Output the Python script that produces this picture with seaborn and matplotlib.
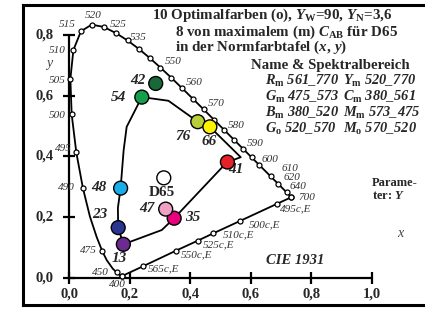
import matplotlib
matplotlib.use("Agg")
import matplotlib.pyplot as plt
import seaborn as sns
import pandas as pd

# spectral locus (CIE 1931), wavelength, x, y
locus_nm = [400, 420, 440, 450, 460, 470, 475, 480, 485, 490, 495, 500, 505, 510, 515, 520, 525,
            530, 535, 540, 545, 550, 555, 560, 565, 570, 575, 580, 585, 590, 595, 600, 610,
            620, 640, 700]
locus_x = [0.1733, 0.1714, 0.1644, 0.1566, 0.1440, 0.1241, 0.1096, 0.0913, 0.0687, 0.0454,
           0.0235, 0.0082, 0.0039, 0.0139, 0.0389, 0.0743, 0.1142, 0.1547, 0.1929, 0.2296,
           0.2658, 0.3016, 0.3373, 0.3731, 0.4087, 0.4441, 0.4788, 0.5125, 0.5448, 0.5752,
           0.6029, 0.6270, 0.6658, 0.6915, 0.7190, 0.7347]
locus_y = [0.0048, 0.0051, 0.0109, 0.0177, 0.0297, 0.0578, 0.0868, 0.1327, 0.2007, 0.2950,
           0.4127, 0.5384, 0.6548, 0.7502, 0.8120, 0.8338, 0.8262, 0.8059, 0.7816, 0.7543,
           0.7243, 0.6923, 0.6589, 0.6245, 0.5896, 0.5547, 0.5202, 0.4866, 0.4544, 0.4242,
           0.3965, 0.3725, 0.3340, 0.3083, 0.2809, 0.2653]
unmarked_nm = [420, 440, 460, 470, 480, 485]

# purple line with compensative wavelengths
purple_lab = ["700", "495c,E", "500c,E", "510c,E", "525c,E", "550c,E", "565c,E", "400"]
purple_x = [0.7347, 0.686, 0.565, 0.476, 0.425, 0.353, 0.245, 0.1733]
purple_y = [0.2653, 0.243, 0.187, 0.146, 0.122, 0.089, 0.038, 0.0048]

# wavelength labels
wl_text = ["400", "450", "475", "490", "495", "500", "505", "510", "515", "520", "525", "535",
           "550", "560", "570", "580", "590", "600", "610", "620", "640", "700",
           "495c,E", "500c,E", "510c,E", "525c,E", "550c,E", "565c,E"]
wl_tx = [0.159, 0.102, 0.063, -0.008, -0.02, -0.039, -0.039, -0.039, -0.008, 0.078, 0.162, 0.228,
         0.344, 0.413, 0.485, 0.551, 0.614, 0.664, 0.730, 0.735, 0.757, 0.787,
         0.750, 0.647, 0.559, 0.493, 0.421, 0.311]
wl_ty = [-0.024, 0.018, 0.091, 0.297, 0.427, 0.536, 0.651, 0.747, 0.833, 0.863, 0.835, 0.792,
         0.712, 0.643, 0.575, 0.503, 0.443, 0.390, 0.360, 0.331, 0.300, 0.265,
         0.226, 0.174, 0.143, 0.110, 0.075, 0.028]

# optimal colour curve
curve_x = [0.179, 0.162, 0.161, 0.170, 0.180, 0.190, 0.240, 0.328, 0.425, 0.465, 0.567, 0.521,
           0.347, 0.306, 0.179]
curve_y = [0.110, 0.165, 0.230, 0.295, 0.420, 0.497, 0.595, 0.583, 0.514, 0.497, 0.397, 0.380,
           0.196, 0.157, 0.110]

# coloured samples
pt_name = ["42", "54", "76", "66", "41", "48", "23", "13", "35", "47", "D65"]
pt_x = [0.286, 0.240, 0.425, 0.465, 0.523, 0.170, 0.162, 0.179, 0.347, 0.319, 0.3127]
pt_y = [0.640, 0.595, 0.514, 0.497, 0.381, 0.295, 0.165, 0.110, 0.196, 0.226, 0.3290]
pt_color = ["#18693a", "#14a04a", "#b8cf3a", "#fff200", "#e8202a", "#1aaee8", "#2a3590",
            "#6b2b90", "#e6007e", "#f0a0c4", "#ffffff"]
lab_x = [0.228, 0.162, 0.375, 0.463, 0.550, 0.099, 0.100, 0.166, 0.408, 0.256, 0.306]
lab_y = [0.651, 0.594, 0.465, 0.448, 0.358, 0.297, 0.207, 0.064, 0.199, 0.229, 0.281]

ticks_x = [0.0, 0.2, 0.4, 0.6, 0.8, 1.0]
ticks_y = [0.0, 0.2, 0.4, 0.6, 0.8]

rows_left = [r"$R_\mathrm{m}$ 561_770", r"$G_\mathrm{m}$ 475_573", r"$B_\mathrm{m}$ 380_520",
             r"$G_\mathrm{o}$ 520_570"]
rows_right = [r"$Y_\mathrm{m}$ 520_770", r"$C_\mathrm{m}$ 380_561", r"$M_\mathrm{m}$ 573_475",
              r"$M_\mathrm{o}$ 570_520"]
rows_y = [0.648, 0.595, 0.542, 0.490]

sns.set_style("white")
plt.rcParams["font.family"] = ["Liberation Serif", "DejaVu Serif"]
plt.rcParams["mathtext.fontset"] = "custom"
plt.rcParams["mathtext.rm"] = "Liberation Serif:bold"
plt.rcParams["mathtext.bf"] = "Liberation Serif:bold"
plt.rcParams["mathtext.it"] = "Liberation Serif:bold:italic"

fig = plt.figure(figsize=(4.25, 3.11), dpi=100)
ax = fig.add_axes([23 / 425, 6 / 311, 417 / 425, 300 / 311])
ax.set_xlim(-0.1527, 1.2258)
ax.set_ylim(-0.0900, 0.8985)
ax.set_xticks([])
ax.set_yticks([])
for s in ["left", "top", "bottom"]:
    ax.spines[s].set_linewidth(2.2)
    ax.spines[s].set_color("black")
ax.spines["right"].set_visible(False)

# axes lines with crossing ticks
ax.plot([0, 1.0], [0, 0], color="black", lw=1.6)
ax.plot([0, 0], [0, 0.8], color="black", lw=1.6)
ax.plot(ticks_x, [0] * len(ticks_x), ls="none", marker="|", ms=8, mew=1.6, color="black")
ax.plot([0] * len(ticks_y), ticks_y, ls="none", marker="_", ms=8, mew=1.6, color="black")
for t in ticks_x:
    ax.text(t, -0.054, f"{t:.1f}".replace(".", ","), ha="center", va="center",
            fontsize=10.5, fontweight="bold")
for t in ticks_y:
    ax.text(-0.052, t, f"{t:.1f}".replace(".", ","), ha="right", va="center",
            fontsize=10.5, fontweight="bold")
ax.text(-0.067, 0.707, "y", fontsize=10, style="italic", color="#444444", ha="center", va="center")
ax.text(1.094, 0.147, "x", fontsize=10, style="italic", color="#444444", ha="center", va="center")

# spectral locus
loc = pd.DataFrame({"nm": locus_nm, "x": locus_x, "y": locus_y})
sns.lineplot(data=loc, x="x", y="y", sort=False, estimator=None, color="black", lw=1.3, ax=ax)
marked = loc[~loc["nm"].isin(unmarked_nm)]
ax.plot(marked["x"], marked["y"], ls="none", marker="o", ms=3.6, mfc="white", mec="black",
        mew=0.9, zorder=4)

pur = pd.DataFrame({"lab": purple_lab, "x": purple_x, "y": purple_y})
sns.lineplot(data=pur, x="x", y="y", sort=False, estimator=None, color="black", lw=1.3, ax=ax)
ax.plot(pur["x"], pur["y"], ls="none", marker="o", ms=3.6, mfc="white", mec="black",
        mew=0.9, zorder=4)

for t, x, y in zip(wl_text, wl_tx, wl_ty):
    ax.text(x, y, t, fontsize=8, style="italic", color="#333333", ha="center", va="center")

# optimal colour curve and samples
cur = pd.DataFrame({"x": curve_x, "y": curve_y})
sns.lineplot(data=cur, x="x", y="y", sort=False, estimator=None, color="black", lw=1.3, ax=ax)
pts = pd.DataFrame({"name": pt_name, "x": pt_x, "y": pt_y})
sns.scatterplot(data=pts, x="x", y="y", hue="name", palette=dict(zip(pt_name, pt_color)),
                s=100, edgecolor="black", linewidth=1.0, legend=False, zorder=5, ax=ax)
for n, x, y in zip(pt_name, lab_x, lab_y):
    ax.text(x, y, n, fontsize=11, fontweight="bold",
            style="normal" if n == "D65" else "italic", ha="center", va="center")

# texts
ax.text(0.274, 0.866, r"10 Optimalfarben (o), $Y_\mathrm{W}$=90, $Y_\mathrm{N}$=3,6",
        fontsize=10.8, fontweight="bold", va="center")
ax.text(0.350, 0.810, r"8 von maximalem (m) $C_\mathrm{AB}$ für D65",
        fontsize=10.8, fontweight="bold", va="center")
ax.text(0.350, 0.758, r"in der Normfarbtafel $(x,\, y)$",
        fontsize=10.8, fontweight="bold", va="center")
ax.text(0.600, 0.698, "Name & Spektralbereich", fontsize=10.7, fontweight="bold", va="center")
for a, b, y in zip(rows_left, rows_right, rows_y):
    ax.text(0.647, y, a, fontsize=10.4, fontweight="bold", style="italic", va="center")
    ax.text(0.906, y, b, fontsize=10.4, fontweight="bold", style="italic", va="center")
ax.text(0.746, 0.056, "CIE 1931", fontsize=10.5, fontweight="bold", style="italic",
        ha="center", va="center")
ax.text(1.001, 0.292, "Parame-\nter: $Y$", fontsize=9, fontweight="bold", va="center",
        linespacing=1.1)

ax.set_xlabel("")
ax.set_ylabel("")
fig.savefig("out.png", dpi=100)
